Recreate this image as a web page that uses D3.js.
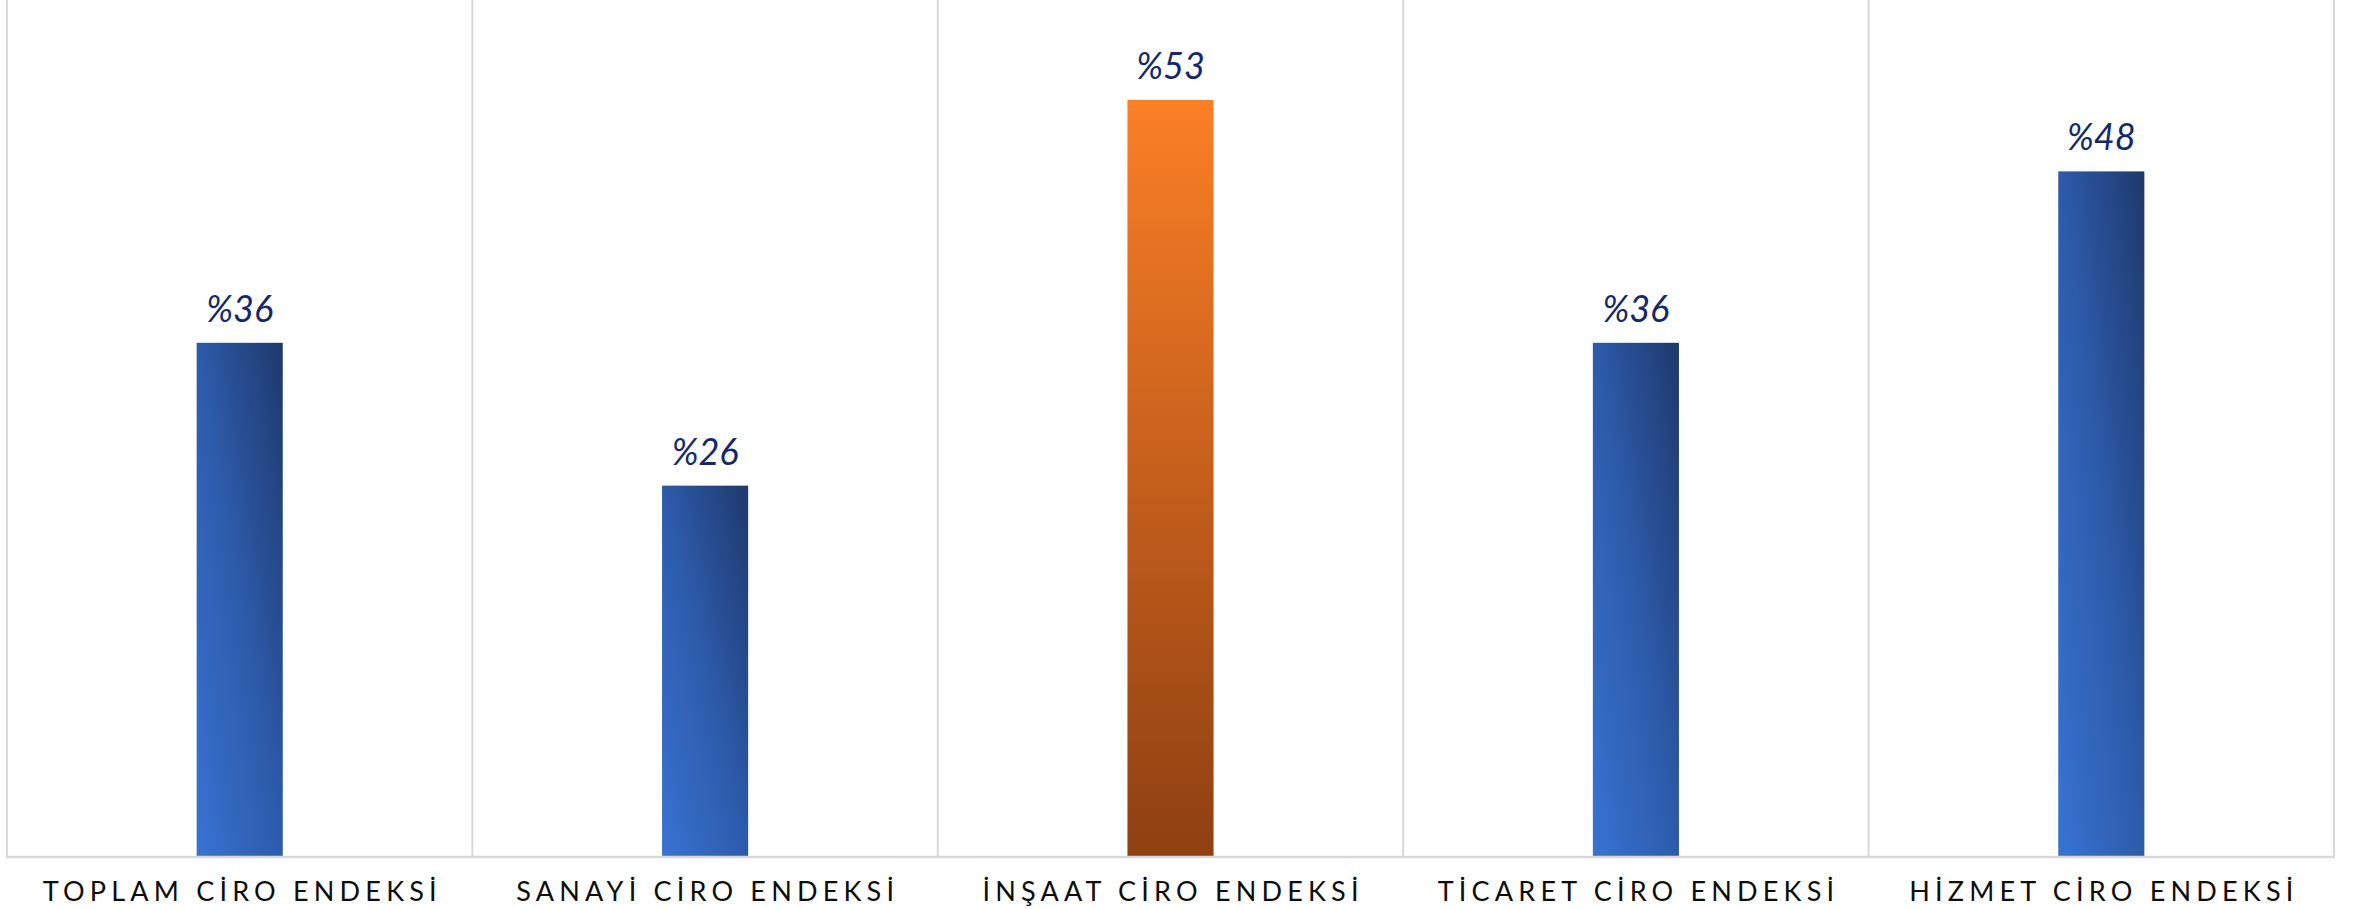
<!DOCTYPE html>
<html>
<head>
<meta charset="utf-8">
<script src="https://cdn.jsdelivr.net/npm/d3@7"></script>
<style>
  html, body { margin: 0; padding: 0; background: #ffffff; }
  svg { display: block; }
</style>
</head>
<body>
<svg id="chart" width="2374" height="909"></svg>
<script>
// ---- data ----
const categories = ["TOPLAM CİRO ENDEKSİ", "SANAYİ CİRO ENDEKSİ", "İNŞAAT CİRO ENDEKSİ", "TİCARET CİRO ENDEKSİ", "HİZMET CİRO ENDEKSİ"];
const values = [36, 26, 53, 36, 48];
const valueLabels = ["%36", "%26", "%53", "%36", "%48"];
const highlight = [false, false, true, false, false];

// ---- layout ----
const W = 2374, H = 909;
const margin = { left: 7, right: 40, top: 0, bottom: 52 };
const svg = d3.select("#chart");
const defs = svg.append("defs");

const blue = defs.append("linearGradient").attr("id", "gBlue")
  .attr("x1", 0).attr("y1", 1).attr("x2", 1).attr("y2", 0);
blue.append("stop").attr("offset", "0%").attr("stop-color", "#3873d3");
blue.append("stop").attr("offset", "50%").attr("stop-color", "#2d5bab");
blue.append("stop").attr("offset", "100%").attr("stop-color", "#1e396c");

const orange = defs.append("linearGradient").attr("id", "gOrange")
  .attr("x1", 0.5).attr("y1", 0).attr("x2", 0.5).attr("y2", 1);
orange.append("stop").attr("offset", "0%").attr("stop-color", "#fb7f26");
orange.append("stop").attr("offset", "100%").attr("stop-color", "#8e3f12");

const x = d3.scaleBand().domain(categories)
  .range([margin.left, W - margin.right]).paddingInner(0).paddingOuter(0);
const y = d3.scaleLinear().domain([0, 60]).range([H - margin.bottom, margin.top]);

const grid = "#d9d9d9";
// vertical separators (band edges)
const edges = categories.map(c => x(c)).concat([x.range()[1]]);
svg.append("g").selectAll("line").data(edges).join("line")
  .attr("x1", d => d).attr("x2", d => d)
  .attr("y1", y(60)).attr("y2", y(0))
  .attr("stroke", grid).attr("stroke-width", 2);

// bars
const barW = x.bandwidth() * 0.185;
svg.append("g").selectAll("rect").data(categories).join("rect")
  .attr("x", (d) => x(d) + x.bandwidth() / 2 - barW / 2)
  .attr("width", barW)
  .attr("y", (d, i) => y(values[i]))
  .attr("height", (d, i) => y(0) - y(values[i]))
  .attr("fill", (d, i) => highlight[i] ? "url(#gOrange)" : "url(#gBlue)");

// baseline
svg.append("line")
  .attr("x1", x.range()[0] - 1).attr("x2", x.range()[1] + 1)
  .attr("y1", y(0)).attr("y2", y(0))
  .attr("stroke", grid).attr("stroke-width", 2.5);

// value labels
svg.append("g").selectAll("text").data(categories).join("text")
  .attr("x", d => x(d) + x.bandwidth() / 2)
  .attr("y", (d, i) => y(values[i]) - 21)
  .attr("text-anchor", "middle")
  .attr("font-family", "Lato, 'DejaVu Sans', sans-serif")
  .attr("font-style", "italic")
  .attr("font-size", 36)
  .attr("fill", "#13296b")
  .text((d, i) => valueLabels[i]);

// category labels
const spacing = 5.2;
svg.append("g").selectAll("text").data(categories).join("text")
  .attr("x", d => x(d) + x.bandwidth() / 2 + spacing / 2)
  .attr("y", y(0) + 44)
  .attr("text-anchor", "middle")
  .attr("font-family", "Lato, 'Open Sans', sans-serif")
  .attr("font-size", 27)
  .attr("letter-spacing", spacing)
  .attr("fill", "#0d0d0d")
  .text(d => d);
</script>
</body>
</html>
